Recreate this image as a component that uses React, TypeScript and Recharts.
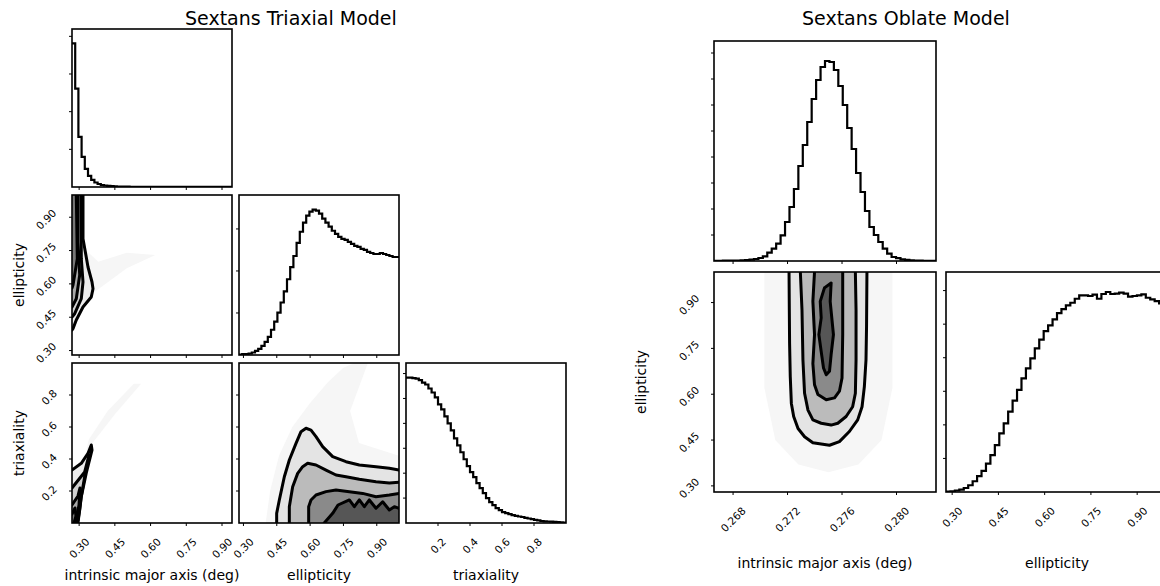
import React from 'react';
import { ComposedChart, Line, ScatterChart, Scatter, XAxis, YAxis } from 'recharts';

const FONT = 'DejaVu Sans, sans-serif';
const TICK_FS = 10.5;

// axis ranges and tick values
const majorTriRange = [0.27, 0.942];
const majorOblRange = [0.2666, 0.2829];
const ellRange = [0.28, 1.0];
const triRange = [0, 1];

const majorTriTicks = [0.3, 0.45, 0.6, 0.75, 0.9];
const majorOblTicks = [0.268, 0.272, 0.276, 0.28];
const ellTicks = [0.3, 0.45, 0.6, 0.75, 0.9];
const triTicks = [0.2, 0.4, 0.6, 0.8];

const histMajorTri = [143, 98, 50, 30, 18, 11, 7, 4.5, 3, 2, 1.5, 1.1, 0.8, 0.6, 0.5, 0.4, 0.35, 0.3, 0.25, 0.2,
  0.2, 0.15, 0.15, 0.1, 0.1, 0.1, 0.1, 0.1, 0.1, 0.1, 0.05, 0.05, 0.05, 0.05, 0.05, 0.05, 0.05, 0.05, 0.05, 0.05,
  0.05, 0.05, 0.05, 0.05, 0.05, 0.05, 0.05, 0.05, 0.05, 0.05];
const histEllTri = [0.5, 1, 1, 1.5, 2.5, 4, 6, 9, 13, 18, 25, 33, 42, 52, 63, 75, 87, 98, 111, 122,
  131, 138, 142, 144, 143, 140, 135, 131, 127, 123, 120, 117, 115, 114, 112, 110, 108, 107, 105, 104,
  102, 101, 100, 100, 101, 100, 99, 98, 97, 97];
const histTri = [146, 146, 145.5, 145, 143.5, 141, 139, 135, 131, 126, 119, 114, 107, 100, 93, 85, 78, 71, 64, 57,
  51, 46, 40, 35, 30, 25, 21, 18, 15, 13, 11, 10, 9, 8, 7.2, 6.5, 6, 5.2, 4.5, 3.8,
  3.2, 2.6, 2, 1.7, 1.5, 1.3, 1.1, 0.9, 0.7, 0.5];
const histMajorObl = [0.2, 0.2, 0.3, 0.3, 0.4, 0.5, 0.6, 0.9, 1.3, 2, 3, 4.7, 8.3, 12.3, 17.3, 25.7, 39, 54, 72, 95,
  116, 139, 162, 181, 194, 200, 199, 191, 175, 156, 133, 112, 88, 69, 50, 34, 26, 19, 12.3, 7.3,
  4, 2.8, 1.7, 1.2, 0.7, 0.5, 0.3, 0.2, 0.1, 0.1];
const histEllObl = [0.3, 0.7, 1.5, 2.3, 4, 6.7, 10.7, 15.7, 21, 28.3, 36.7, 46.7, 58.3, 68.3, 80, 91, 101.7, 113, 123, 133,
  143, 151.7, 160, 165.7, 171.7, 178, 182, 185.7, 188.3, 192.3, 195.7, 195.7, 195, 196.3, 192.3, 197, 199, 197, 197.3, 198.3,
  197.3, 194.3, 195, 195.7, 196.7, 193.3, 191.7, 190, 187.7, 186];

// unlabeled count ticks on the histogram panels
const countTicksMajorTri = [37.5, 75, 112.5, 150];
const countTicksEllTri = [41.6, 83.2, 124.8];
const countTicksTri = [25, 50, 75, 100, 125, 150];
const countTicksMajorObl = [26, 52, 78, 104, 130, 156, 182, 208];
const countTicksEllObl = [33.4, 66.8, 100.2, 133.6, 167, 200.4];

// contours as [x, y], outermost first
// triaxial: major axis vs ellipticity
const t21C1 = [[0.3162, 1.0], [0.3162, 0.8034], [0.3372, 0.676], [0.354, 0.6085], [0.3582, 0.5784], [0.351, 0.541], [0.3162, 0.496], [0.288, 0.4375], [0.2742, 0.3984], [0.27, 0.3925]];
const t21C2 = [[0.3078, 1.0], [0.3091, 0.7134], [0.3162, 0.6085], [0.3091, 0.5334], [0.2813, 0.4659], [0.27, 0.451]];
const t21C3 = [[0.2952, 1.0], [0.2952, 0.7885], [0.3023, 0.64], [0.2881, 0.5334], [0.27, 0.496]];
const t21C4 = [[0.2881, 1.0], [0.2923, 0.7134], [0.2742, 0.595], [0.27, 0.5815]];
const t21Halo = [[0.27, 0.42], [0.36, 0.56], [0.5, 0.67], [0.62, 0.73], [0.5, 0.74], [0.38, 0.7], [0.33, 0.75], [0.27, 0.8]];
const t21Corner = [0.27, 1.0];

// triaxial: major axis vs triaxiality
const t31C1 = [[0.27, 0.331], [0.309, 0.373], [0.3372, 0.436], [0.351, 0.4875], [0.354, 0.456], [0.33, 0.3125], [0.309, 0.164], [0.3023, 0.081], [0.2952, 0.019], [0.288, 0]];
const t31C2 = [[0.27, 0.219], [0.3233, 0.319], [0.3414, 0.425], [0.3246, 0.3], [0.3078, 0.156], [0.2952, 0]];
const t31C3 = [[0.27, 0.1125], [0.2952, 0.169], [0.3036, 0.219], [0.2994, 0.1125], [0.2847, 0]];
const t31C4 = [[0.27, 0.056], [0.2826, 0.094], [0.2868, 0.044], [0.2784, 0]];
const t31Halo = [[0.33, 0.45], [0.45, 0.68], [0.56, 0.87], [0.53, 0.87], [0.42, 0.7], [0.34, 0.52]];
const t31Corner = [0.27, 0];

// triaxial: ellipticity vs triaxiality
const t32C1 = [[0.4495, 0], [0.4495, 0.0604], [0.4615, 0.144], [0.484, 0.289], [0.5065, 0.394], [0.5365, 0.498], [0.559, 0.571], [0.5815, 0.592], [0.604, 0.581], [0.6265, 0.54], [0.6565, 0.477], [0.7015, 0.415], [0.7615, 0.383], [0.8215, 0.3625], [0.8965, 0.352], [0.9565, 0.342], [1.0, 0.331]];
const t32C2 = [[0.5065, 0], [0.5065, 0.102], [0.5215, 0.227], [0.544, 0.31], [0.5665, 0.352], [0.589, 0.373], [0.6265, 0.3625], [0.6715, 0.331], [0.7165, 0.3], [0.7615, 0.289], [0.8215, 0.273], [0.8965, 0.258], [0.9565, 0.25], [1.0, 0.255]];
const t32C3 = [[0.5935, 0], [0.5935, 0.102], [0.604, 0.144], [0.6265, 0.175], [0.6715, 0.196], [0.7165, 0.206], [0.7765, 0.196], [0.8365, 0.185], [0.8965, 0.164], [0.9565, 0.175], [1.0, 0.185]];
const t32C4 = [[0.6635, 0], [0.7015, 0.0604], [0.7255, 0.1125], [0.7765, 0.144], [0.799, 0.102], [0.8215, 0.144], [0.844, 0.102], [0.8665, 0.144], [0.8965, 0.092], [0.9265, 0.133], [0.9565, 0.081], [0.979, 0.102], [1.0, 0.092]];
const t32Halo = [[0.4, 0], [0.42, 0.2], [0.46, 0.42], [0.52, 0.6], [0.6, 0.75], [0.68, 0.88], [0.75, 0.97], [0.8, 1.0], [0.86, 1.0], [0.82, 0.85], [0.78, 0.7], [0.82, 0.5], [1.0, 0.42], [1.0, 0]];
const t32Corner = [1.0, 0];

// oblate: major axis vs ellipticity
const oblC1 = [[0.27211, 1.0], [0.27213, 0.876], [0.27215, 0.767], [0.2722, 0.657], [0.27228, 0.57], [0.27245, 0.527], [0.27277, 0.488], [0.27325, 0.461], [0.27386, 0.441], [0.27459, 0.436], [0.27508, 0.433], [0.27581, 0.445], [0.27654, 0.478], [0.27715, 0.516], [0.27747, 0.559], [0.27764, 0.625], [0.27776, 0.712], [0.2778, 0.821], [0.27783, 1.0]];
const oblC2 = [[0.27294, 1.0], [0.27306, 0.876], [0.27313, 0.712], [0.27325, 0.603], [0.2735, 0.548], [0.27386, 0.516], [0.27447, 0.505], [0.2752, 0.499], [0.27569, 0.505], [0.2763, 0.527], [0.27678, 0.559], [0.27698, 0.603], [0.27703, 0.712], [0.27703, 0.876], [0.27698, 1.0]];
const oblC3 = [[0.27398, 1.0], [0.27386, 0.904], [0.27398, 0.795], [0.27386, 0.7], [0.27398, 0.631], [0.27423, 0.599], [0.27484, 0.582], [0.27545, 0.588], [0.27581, 0.61], [0.276, 0.653], [0.27605, 0.795], [0.27605, 1.0]];
const oblC4 = [[0.27471, 0.948], [0.2752, 0.964], [0.27513, 0.904], [0.27537, 0.795], [0.2752, 0.73], [0.27508, 0.675], [0.27484, 0.664], [0.27464, 0.686], [0.27447, 0.74], [0.2743, 0.795], [0.27447, 0.85], [0.2744, 0.904], [0.27471, 0.948]];
const oblHalo = [[0.2703, 1.0], [0.2703, 0.62], [0.2711, 0.45], [0.2728, 0.37], [0.275, 0.345], [0.2772, 0.37], [0.2789, 0.45], [0.2797, 0.62], [0.2797, 1.0]];

const bandGreys = ['#e4e4e4', '#bbbbbb', '#8a8a8a', '#565656'];
const smallBandGreys = ['#ececec', '#d0d0d0', '#a8a8a8', '#777777'];
const haloGrey = '#f6f6f6';

type Box = { x: number; y: number; w: number; h: number };
type Ax = { range: number[]; ticks: number[]; fmt: (v: number) => string; show: boolean; off?: number };

const PAD = 4;
const fmt1 = (v: number) => v.toFixed(1);
const fmt2 = (v: number) => v.toFixed(2);
const fmt3 = (v: number) => v.toFixed(3);

const toPts = (a: number[][]) => a.map(([x, y]) => ({ x, y }));
const withCorner = (a: number[][], c: number[]) => toPts([...a, c]);

const histRows = (vals: number[], range: number[]) => {
  const w = (range[1] - range[0]) / vals.length;
  const rows = vals.map((v, i) => ({ x: range[0] + i * w, y: v }));
  rows.push({ x: range[1], y: vals[vals.length - 1] });
  return rows;
};

const textW = (s: string) =>
  s.split('').reduce((a, c) => a + (c === '.' ? 0.318 : 0.636), 0) * TICK_FS;

const Blank = () => <g />;

const xTick = (axisY: number, xa: Ax) => (p: any) => {
  if (!xa.show) return <g />;
  const s = xa.fmt(p.payload.value);
  const cx = p.x;
  const cy = axisY + 14 + (textW(s) + 0.73 * TICK_FS) / 2.83;
  return (
    <text x={cx} y={cy} textAnchor="middle" dominantBaseline="central" fontSize={TICK_FS} fontFamily={FONT} fill="#000"
      transform={`rotate(-45 ${cx} ${cy})`}>{s}</text>
  );
};

const yTick = (axisX: number, ya: Ax) => (p: any) => {
  if (!ya.show) return <g />;
  const s = ya.fmt(p.payload.value);
  const cx = axisX - (ya.off || 25);
  const cy = p.y + 2;
  return (
    <text x={cx} y={cy} textAnchor="middle" dominantBaseline="central" fontSize={TICK_FS} fontFamily={FONT} fill="#000"
      transform={`rotate(-45 ${cx} ${cy})`}>{s}</text>
  );
};

const geom = (box: Box, xShow: boolean, yShow: boolean) => {
  const L = yShow ? 64 : 8;
  const B = xShow ? 50 : yShow ? 18 : 8;
  return { L, B, width: L + box.w + PAD, height: PAD + box.h + B, left: box.x - L, top: box.y - PAD };
};

function HistPanel({ box, vals, xa, yTicks }: { box: Box; vals: number[]; xa: Ax; yTicks: number[] }) {
  const g = geom(box, xa.show, false);
  const rows = histRows(vals, xa.range);
  const top = Math.max(...vals) * 1.1;
  return (
    <div style={{ position: 'absolute', left: g.left, top: g.top }}>
      <ComposedChart width={g.width} height={g.height} data={rows} margin={{ top: PAD, right: PAD, left: 0, bottom: 0 }}>
        <XAxis dataKey="x" type="number" domain={xa.range} ticks={xa.ticks} interval={0} allowDataOverflow
          axisLine={false} stroke="#000" tickSize={3} tick={xTick(PAD + box.h, xa)} height={g.B} />
        <YAxis type="number" domain={[0, top]} ticks={yTicks} interval={0} allowDataOverflow
          axisLine={false} stroke="#000" tickSize={3} tick={Blank} width={g.L} />
        <Line dataKey="y" type="stepAfter" stroke="#000" strokeWidth={2.2} dot={false} isAnimationActive={false} />
      </ComposedChart>
    </div>
  );
}

function ContourPanel({ box, xa, ya, halo, fills, lines, greys }: {
  box: Box; xa: Ax; ya: Ax; halo: number[][]; fills: { x: number; y: number }[][]; lines: number[][][]; greys: string[];
}) {
  const g = geom(box, xa.show, ya.show);
  return (
    <div style={{ position: 'absolute', left: g.left, top: g.top }}>
      <ScatterChart width={g.width} height={g.height} margin={{ top: PAD, right: PAD, left: 0, bottom: 0 }}>
        <XAxis dataKey="x" type="number" domain={xa.range} ticks={xa.ticks} interval={0} allowDataOverflow
          axisLine={false} stroke="#000" tickSize={3} tick={xTick(PAD + box.h, xa)} height={g.B} />
        <YAxis dataKey="y" type="number" domain={ya.range} ticks={ya.ticks} interval={0} allowDataOverflow
          axisLine={false} stroke="#000" tickSize={3} tick={yTick(g.L, ya)} width={g.L} />
        <Scatter data={toPts(halo)} fill="none" shape={Blank} line={{ stroke: 'none', fill: haloGrey }} isAnimationActive={false} />
        {fills.map((f, i) => (
          <Scatter key={'f' + i} data={f} fill="none" shape={Blank} line={{ stroke: 'none', fill: greys[i] }} isAnimationActive={false} />
        ))}
        {lines.map((c, i) => (
          <Scatter key={'c' + i} data={toPts(c)} fill="none" shape={Blank}
            line={{ stroke: '#000', strokeWidth: 3, fill: 'none', strokeLinejoin: 'round', strokeLinecap: 'round' }} isAnimationActive={false} />
        ))}
      </ScatterChart>
    </div>
  );
}

// panel boxes
const tri11: Box = { x: 72, y: 29, w: 160, h: 158 };
const tri21: Box = { x: 72, y: 195, w: 160, h: 160 };
const tri22: Box = { x: 239, y: 195, w: 160, h: 160 };
const tri31: Box = { x: 72, y: 363, w: 160, h: 160 };
const tri32: Box = { x: 239, y: 363, w: 160, h: 160 };
const tri33: Box = { x: 406, y: 363, w: 160, h: 160 };
const obl11: Box = { x: 714, y: 41, w: 222, h: 220 };
const obl21: Box = { x: 714, y: 272, w: 222, h: 220 };
const obl22: Box = { x: 946, y: 272, w: 222, h: 220 };
const boxes = [tri11, tri21, tri22, tri31, tri32, tri33, obl11, obl21, obl22];

const ax = (range: number[], ticks: number[], fmt: (v: number) => string, show: boolean, off?: number): Ax =>
  ({ range, ticks, fmt, show, off });

export default function App() {
  return (
    <div style={{ position: 'absolute', left: 0, top: 0, width: 1160, height: 586, overflow: 'hidden', background: '#fff' }}>
      {/* Sextans triaxial */}
      <HistPanel box={tri11} vals={histMajorTri} xa={ax(majorTriRange, majorTriTicks, fmt2, false)} yTicks={countTicksMajorTri} />
      <ContourPanel box={tri21} xa={ax(majorTriRange, majorTriTicks, fmt2, false)} ya={ax(ellRange, ellTicks, fmt2, true, 26)}
        halo={t21Halo} fills={[t21C1, t21C2, t21C3, t21C4].map((c) => withCorner(c, t21Corner))}
        lines={[t21C1, t21C2, t21C3, t21C4]} greys={smallBandGreys} />
      <HistPanel box={tri22} vals={histEllTri} xa={ax(ellRange, ellTicks, fmt2, false)} yTicks={countTicksEllTri} />
      <ContourPanel box={tri31} xa={ax(majorTriRange, majorTriTicks, fmt2, true)} ya={ax(triRange, triTicks, fmt1, true, 23)}
        halo={t31Halo} fills={[t31C1, t31C2, t31C3, t31C4].map((c) => withCorner(c, t31Corner))}
        lines={[t31C1, t31C2, t31C3, t31C4]} greys={smallBandGreys} />
      <ContourPanel box={tri32} xa={ax(ellRange, ellTicks, fmt2, true)} ya={ax(triRange, triTicks, fmt1, false)}
        halo={t32Halo} fills={[t32C1, t32C2, t32C3, t32C4].map((c) => withCorner(c, t32Corner))}
        lines={[t32C1, t32C2, t32C3, t32C4]} greys={bandGreys} />
      <HistPanel box={tri33} vals={histTri} xa={ax(triRange, triTicks, fmt1, true)} yTicks={countTicksTri} />

      {/* Sextans oblate */}
      <HistPanel box={obl11} vals={histMajorObl} xa={ax(majorOblRange, majorOblTicks, fmt3, false)} yTicks={countTicksMajorObl} />
      <ContourPanel box={obl21} xa={ax(majorOblRange, majorOblTicks, fmt3, true)} ya={ax(ellRange, ellTicks, fmt2, true, 25)}
        halo={oblHalo} fills={[oblC1, oblC2, oblC3, oblC4].map(toPts)} lines={[oblC1, oblC2, oblC3, oblC4]} greys={bandGreys} />
      <HistPanel box={obl22} vals={histEllObl} xa={ax(ellRange, ellTicks, fmt2, true)} yTicks={countTicksEllObl} />

      <svg width={1160} height={586} style={{ position: 'absolute', left: 0, top: 0, pointerEvents: 'none' }}
        fontFamily={FONT} fill="#000">
        {boxes.map((b, i) => (
          <rect key={i} x={b.x} y={b.y} width={b.w} height={b.h} fill="none" stroke="#000" strokeWidth={1.6} />
        ))}
        <text x={185} y={25} fontSize={19}>Sextans Triaxial Model</text>
        <text x={802} y={25} fontSize={19}>Sextans Oblate Model</text>

        <text x={152} y={580} fontSize={14} textAnchor="middle">intrinsic major axis (deg)</text>
        <text x={319} y={580} fontSize={14} textAnchor="middle">ellipticity</text>
        <text x={486} y={580} fontSize={14} textAnchor="middle">triaxiality</text>
        <text x={23.5} y={275} fontSize={14} textAnchor="middle" transform="rotate(-90 23.5 275)">ellipticity</text>
        <text x={23.5} y={443} fontSize={14} textAnchor="middle" transform="rotate(-90 23.5 443)">triaxiality</text>

        <text x={825} y={568} fontSize={14} textAnchor="middle">intrinsic major axis (deg)</text>
        <text x={1057} y={568} fontSize={14} textAnchor="middle">ellipticity</text>
        <text x={646} y={382} fontSize={14} textAnchor="middle" transform="rotate(-90 646 382)">ellipticity</text>
      </svg>
    </div>
  );
}
